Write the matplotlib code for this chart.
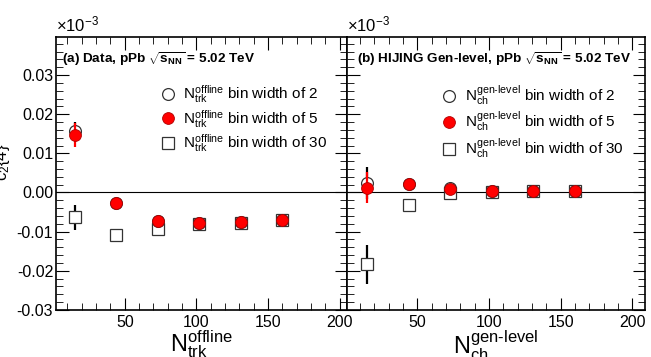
import matplotlib
matplotlib.use("Agg")
import matplotlib.pyplot as plt
from matplotlib.lines import Line2D
from matplotlib.ticker import MultipleLocator, FormatStrFormatter

plt.rcParams["font.family"] = ["Liberation Sans", "DejaVu Sans"]
plt.rcParams["mathtext.fontset"] = "custom"
plt.rcParams["mathtext.rm"] = "Liberation Sans"
plt.rcParams["mathtext.it"] = "Liberation Sans"
plt.rcParams["mathtext.bf"] = "Liberation Sans:bold"

# multiplicity bin centres
x_data = [15, 44, 73, 102, 131, 160]
x_hij = [15, 44, 73, 102, 131, 160]

# (a) data
data_w2 = [0.0157, -0.0027, -0.0072, -0.0077, -0.0075, -0.0070]
data_w2_err = [0.0022, 0.0004, 0.0003, 0.0003, 0.0003, 0.0003]
data_w5 = [0.0147, -0.0027, -0.0074, -0.0078, -0.0076, -0.0071]
data_w5_err = [0.0030, 0.0005, 0.0004, 0.0004, 0.0004, 0.0004]
data_w30 = [-0.0063, -0.0108, -0.0093, -0.0080, -0.0077, -0.0071]
data_w30_err = [0.0032, 0.0004, 0.0003, 0.0003, 0.0003, 0.0003]

# (b) HIJING gen-level
hij_w2 = [0.0024, 0.0022, 0.0011, 0.0003, 0.0003, 0.0003]
hij_w2_err = [0.0040, 0.0004, 0.0003, 0.0002, 0.0002, 0.0002]
hij_w5 = [0.0012, 0.0022, 0.0010, 0.0003, 0.0003, 0.0003]
hij_w5_err = [0.0040, 0.0005, 0.0004, 0.0003, 0.0003, 0.0003]
hij_w30 = [-0.0183, -0.0031, -0.0002, 0.0002, 0.0003, 0.0003]
hij_w30_err = [0.0050, 0.0004, 0.0003, 0.0002, 0.0002, 0.0002]

fig = plt.figure(figsize=(6.51, 3.57), dpi=100)
axL = fig.add_axes([0.086, 0.132, 0.447, 0.764])
axR = fig.add_axes([0.533, 0.132, 0.458, 0.764])

open_style = dict(ms=8.5, mfc="white", mec="#333333", mew=0.9)
red_style = dict(ms=8.5, mfc="red", mec="#b00000", mew=0.6)
sq_style = dict(ms=8, mfc="white", mec="#333333", mew=0.9)


def draw(ax, x, w2, e2, w5, e5, w30, e30, lab, leg_x):
    ax.axhline(0, color="black", lw=0.8, zorder=1)
    ax.errorbar(x, w30, yerr=e30, fmt="s", ecolor="black", elinewidth=1.6,
                capsize=0, zorder=2, **sq_style)
    ax.errorbar(x, w2, yerr=e2, fmt="o", ecolor="black", elinewidth=1.6,
                capsize=0, zorder=3, **open_style)
    ax.errorbar(x, w5, yerr=e5, fmt="o", ecolor="red", elinewidth=1.6,
                capsize=0, zorder=4, **red_style)
    ax.set_ylim(-0.03, 0.0397)
    ax.xaxis.set_major_locator(MultipleLocator(50))
    ax.xaxis.set_minor_locator(MultipleLocator(10))
    ax.yaxis.set_major_locator(MultipleLocator(0.01))
    ax.yaxis.set_minor_locator(MultipleLocator(0.002))
    ax.tick_params(which="both", direction="in", top=True, right=True,
                   labelsize=11.5)
    ax.tick_params(axis="y", pad=2)
    ax.tick_params(which="major", length=9)
    ax.tick_params(which="minor", length=5)
    handles = [Line2D([], [], ls="none", marker="o", **open_style),
               Line2D([], [], ls="none", marker="o", **red_style),
               Line2D([], [], ls="none", marker="s", **sq_style)]
    labels = [rf"$\mathregular{{{lab}}}$ bin width of {w}" for w in (2, 5, 30)]
    ax.legend(handles, labels, loc="upper left", bbox_to_anchor=(leg_x, 0.83),
              frameon=False, fontsize=11, borderpad=0, borderaxespad=0,
              handletextpad=0.5, labelspacing=0.17, handlelength=1.0)
    for s in ax.spines.values():
        s.set_linewidth(1.2)


draw(axL, x_data, data_w2, data_w2_err, data_w5, data_w5_err,
     data_w30, data_w30_err, "N_{trk}^{offline}", 0.357)
draw(axR, x_hij, hij_w2, hij_w2_err, hij_w5, hij_w5_err,
     hij_w30, hij_w30_err, r"N_{ch}^{gen\text{-}level}", 0.318)

axL.set_xlim(2, 205)
axR.set_xlim(1, 209)
axL.yaxis.set_major_formatter(FormatStrFormatter("%.2f"))
axR.tick_params(labelleft=False)

axL.set_ylabel(r"$\mathregular{c_2\{4\}}$", fontsize=12, labelpad=1)
axL.yaxis.set_label_coords(-0.152, 0.54)
axL.set_xlabel(r"$\mathregular{N_{trk}^{offline}}$", fontsize=17, labelpad=-1)
axR.set_xlabel(r"$\mathregular{N_{ch}^{gen\text{-}level}}$", fontsize=17,
               labelpad=-1)

axL.text(0.02, 0.952, r"(a) Data, pPb $\mathbf{\sqrt{s_{NN}}}$ = 5.02 TeV",
         transform=axL.transAxes, fontsize=9.7, fontweight="bold", va="top")
axR.text(0.035, 0.952, r"(b) HIJING Gen-level, pPb $\mathbf{\sqrt{s_{NN}}}$ = 5.02 TeV",
         transform=axR.transAxes, fontsize=9.7, fontweight="bold", va="top")

for ax in (axL, axR):
    ax.text(0.0, 1.01, r"$\mathregular{\times10^{-3}}$", transform=ax.transAxes,
            fontsize=12, va="bottom", ha="left")

fig.savefig("out.png", dpi=100)
